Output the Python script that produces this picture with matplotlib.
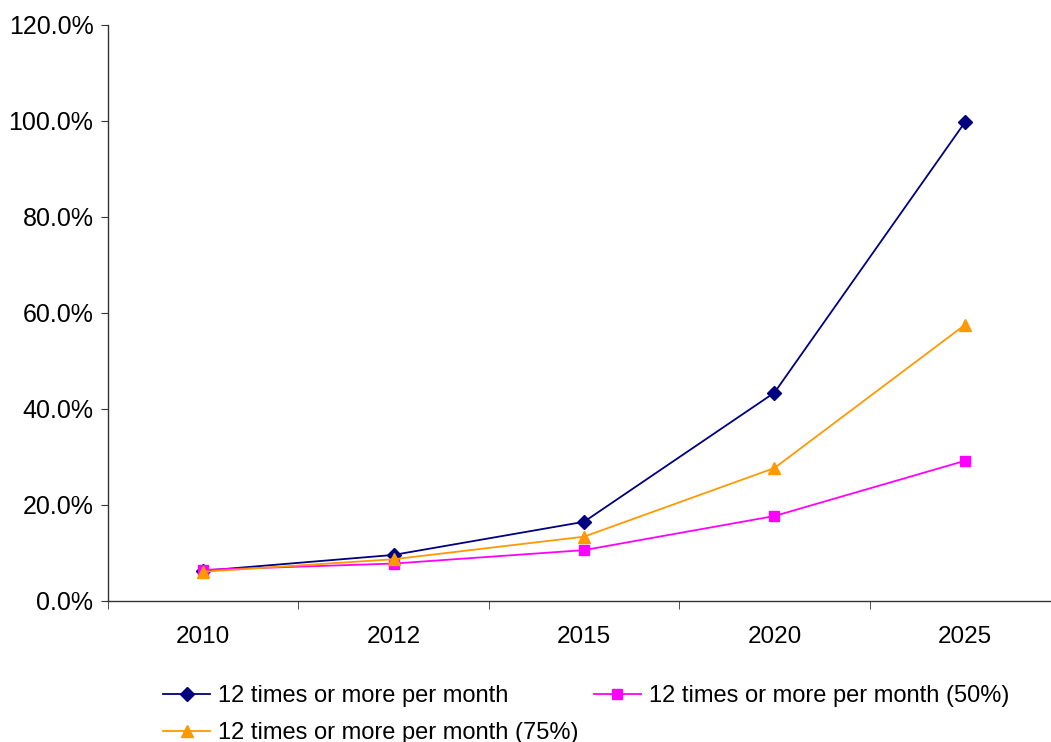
import numpy as np
import matplotlib.pyplot as plt
from matplotlib.ticker import FuncFormatter

plt.rcParams['font.family'] = ['Liberation Sans', 'DejaVu Sans']

years = ['2010', '2012', '2015', '2020', '2025']
base = [6.3, 9.6, 16.5, 43.4, 99.7]
p50 = [6.5, 7.8, 10.6, 17.7, 29.2]
p75 = [6.1, 8.7, 13.4, 27.7, 57.5]
labels = ['12 times or more per month',
          '12 times or more per month (50%)',
          '12 times or more per month (75%)']

fig = plt.figure(figsize=(10.51, 7.42), dpi=100)
ax = fig.add_axes([108/1051, 1 - 601/742, (1060 - 108)/1051, (601 - 25)/742])

x = np.arange(len(years))
l1, = ax.plot(x, base, color='#000080', marker='D', markersize=7, lw=1.3, label=labels[0])
l2, = ax.plot(x, p50, color='#FF00FF', marker='s', markersize=7, lw=1.3, label=labels[1])
l3, = ax.plot(x, p75, color='#FF9900', marker='^', markersize=9, lw=1.3, label=labels[2])

ax.set_xlim(-0.5, len(years) - 0.5)
ax.set_ylim(0, 120)
ax.set_yticks(np.arange(0, 121, 20))
ax.yaxis.set_major_formatter(FuncFormatter(lambda v, p: '%.1f%%' % v))
ax.set_xticks(x)
ax.set_xticklabels(years)
ax.set_xticks(np.arange(-0.5, len(years)), minor=True)
ax.tick_params(axis='x', which='major', length=0, pad=18, labelsize=17.5)
ax.tick_params(axis='x', which='minor', length=6, color='#333333')
ax.tick_params(axis='y', length=5, pad=5.5, labelsize=18, color='#333333')

for s in ['top', 'right']:
    ax.spines[s].set_visible(False)
for s in ['left', 'bottom']:
    ax.spines[s].set_color('#333333')
    ax.spines[s].set_linewidth(1.0)

# legend sits partly below the figure edge
fig.legend(handles=[l1, l3, l2], ncol=2, frameon=False, fontsize=17,
           loc='upper left', bbox_to_anchor=(163/1051, 1 - 685/742),
           handlelength=2.0, handletextpad=0.35, columnspacing=0.62,
           labelspacing=0.65, borderaxespad=0, borderpad=0)

fig.savefig('out.png', dpi=100)
